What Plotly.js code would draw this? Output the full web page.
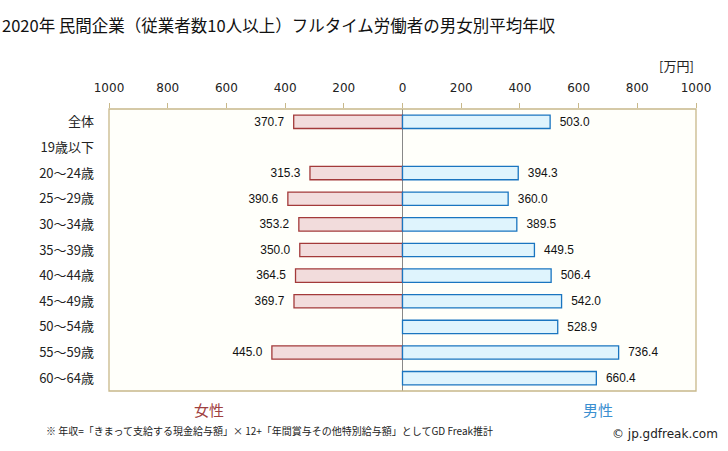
<!DOCTYPE html>
<html><head><meta charset="utf-8">
<script src="https://cdn.plot.ly/plotly-3.0.1.min.js"></script>
<style>body{margin:0;padding:0;background:#fff}#c{width:728px;height:451px}</style>
</head><body><div id="c"></div>
<script>
const categories = ["全体","19歳以下","20～24歳","25～29歳","30～34歳","35～39歳","40～44歳","45～49歳","50～54歳","55～59歳","60～64歳"];
const female = [370.7, null, 315.3, 390.6, 353.2, 350.0, 364.5, 369.7, null, 445.0, null];
const male = [503.0, null, 394.3, 360.0, 389.5, 449.5, 506.4, 542.0, 528.9, 736.4, 660.4];
const tickVals = [-1000,-800,-600,-400,-200,0,200,400,600,800,1000];
const tickText = ["1000","800","600","400","200","0","200","400","600","800","1000"];

const numFont = {family:"Liberation Sans, Arial, sans-serif", size:12.5, color:"#111"};
const jpFont = "Noto Sans CJK JP, sans-serif";
const gap = "\u00a0\u00a0";

const traces = [
 {type:"bar", orientation:"h", y:categories, x:female.map(v=>v==null?null:-v),
  text:female.map(v=>v==null?"":v.toFixed(1)+gap), textposition:"outside", cliponaxis:false,
  textfont:numFont, hoverinfo:"skip",
  marker:{color:"#f2dcdc", line:{color:"#a33a3a", width:1.3}}, width:0.52},
 {type:"bar", orientation:"h", y:categories, x:male,
  text:male.map(v=>v==null?"":gap+v.toFixed(1)), textposition:"outside", cliponaxis:false,
  textfont:numFont, hoverinfo:"skip",
  marker:{color:"#dff4fd", line:{color:"#1a75c0", width:1.3}}, width:0.52}
];

const layout = {
 width:728, height:451, margin:{l:109, r:32, t:109, b:60},
 paper_bgcolor:"#ffffff", plot_bgcolor:"#fffffa",
 barmode:"overlay", showlegend:false,
 xaxis:{range:[-1000,1000], side:"top", tickvals:tickVals, ticktext:tickText,
   ticks:"outside", ticklen:5, tickcolor:"#c8b88a", showgrid:false,
   zeroline:true, zerolinecolor:"#888888", zerolinewidth:1.3,
   showline:false, tickfont:{family:"DejaVu Sans, Verdana, sans-serif", size:12, color:"#222"},
   ticklabelstandoff:6, fixedrange:true},
 yaxis:{type:"category", autorange:"reversed", showgrid:false, zeroline:false, showline:false,
   ticks:"", tickfont:{family:jpFont, size:13, color:"#222"}, ticklabelstandoff:14},
 shapes:[{type:"rect", xref:"paper", yref:"paper", x0:0, x1:1, y0:0, y1:1,
   line:{color:"#c8b88a", width:1.3}, layer:"above"}],
 annotations:[
  {text:"2020年 民間企業（従業者数10人以上）フルタイム労働者の男女別平均年収", xref:"paper", yref:"paper",
   x:-109/587, y:1+ (109-25)/282, xanchor:"left", yanchor:"middle", showarrow:false,
   font:{family:jpFont, size:16.5, color:"#111"}},
  {text:"[万円]", xref:"paper", yref:"paper", x:1.0, y:1+(109-66)/282, xanchor:"right", yanchor:"middle",
   showarrow:false, font:{family:jpFont, size:13, color:"#222"}},
  {text:"女性", xref:"paper", yref:"paper", x:(209-109)/587, y:-(409-391)/282, xanchor:"center", yanchor:"middle",
   showarrow:false, font:{family:jpFont, size:15, color:"#a04040"}},
  {text:"男性", xref:"paper", yref:"paper", x:(598-109)/587, y:-(409-391)/282, xanchor:"center", yanchor:"middle",
   showarrow:false, font:{family:jpFont, size:15, color:"#3a8fd0"}},
  {text:"※ 年収=「きまって支給する現金給与額」× 12+「年間賞与その他特別給与額」としてGD Freak推計", xref:"paper", yref:"paper",
   x:(44-109)/587, y:-(430-391)/282, xanchor:"left", yanchor:"middle", showarrow:false,
   font:{family:jpFont, size:10, color:"#222"}},
  {text:"© jp.gdfreak.com", xref:"paper", yref:"paper", x:(720-109)/587, y:-(434-391)/282, xanchor:"right", yanchor:"middle",
   showarrow:false, font:{family:"DejaVu Sans, sans-serif", size:12, color:"#222"}}
 ]
};
Plotly.newPlot("c", traces, layout, {staticPlot:true});
</script></body></html>
